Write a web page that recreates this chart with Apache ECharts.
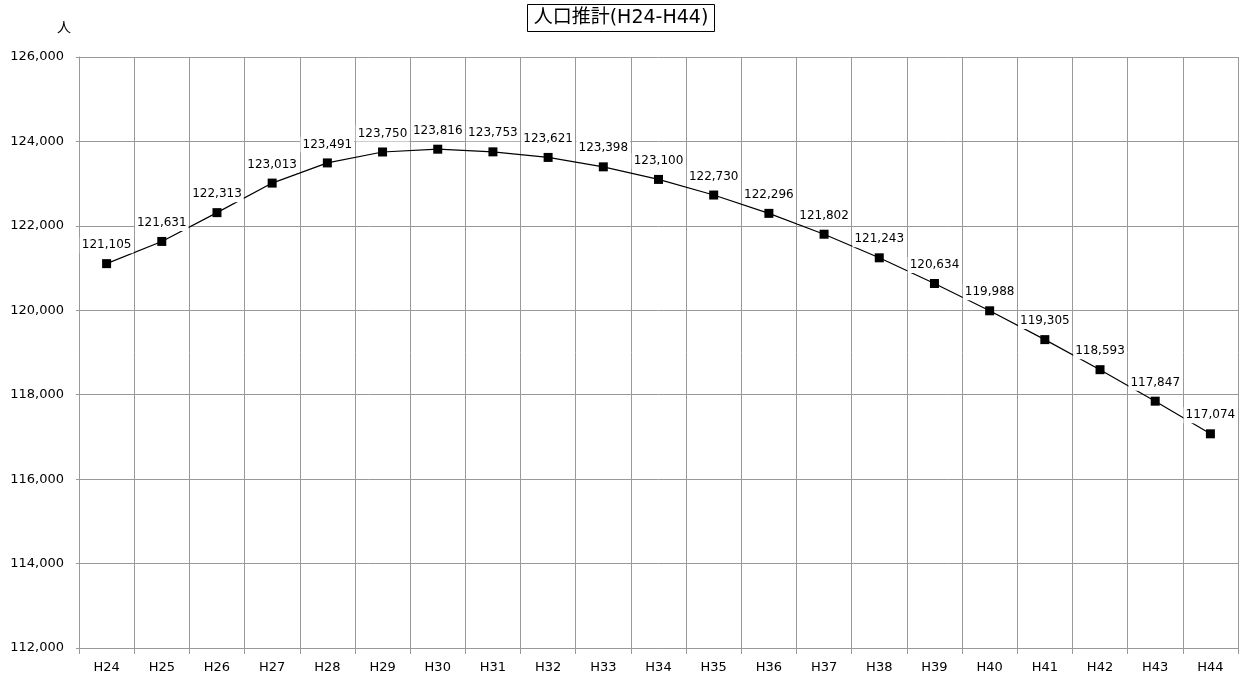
<!DOCTYPE html>
<html><head><meta charset="utf-8">
<script src="https://cdn.jsdelivr.net/npm/echarts@6/dist/echarts.min.js"></script>
<style>html,body{margin:0;padding:0;background:#fff}#c{width:1242px;height:682px}</style>
</head><body><div id="c"></div>
<script>
const categories = ['H24','H25','H26','H27','H28','H29','H30','H31','H32','H33','H34','H35','H36','H37','H38','H39','H40','H41','H42','H43','H44'];
const population = [121105,121631,122313,123013,123491,123750,123816,123753,123621,123398,123100,122730,122296,121802,121243,120634,119988,119305,118593,117847,117074];
const yTicks = {min:112000, max:126000, interval:2000};
const titleText = '人口推計(H24-H44)';
const unitText = '人';

const chart = echarts.init(document.getElementById('c'));
const font = '"DejaVu Sans", "Noto Sans CJK JP", sans-serif';
chart.setOption({
  animation:false,
  backgroundColor:'#fff',
  title:{text:titleText,left:'center',top:4,padding:[5,6,4,6],borderColor:'#000',borderWidth:1,
    textStyle:{fontSize:19,fontWeight:'normal',color:'#000',fontFamily:font}},
  graphic:[{type:'text',left:57,top:20,style:{text:unitText,fontSize:14,fill:'#000',fontFamily:'"Noto Sans CJK JP", sans-serif'}}],
  grid:{left:79,right:4,top:57,bottom:34,containLabel:false},
  xAxis:{type:'category',data:categories,boundaryGap:true,
    axisLine:{lineStyle:{color:'#999',width:1}},
    axisTick:{show:true,length:6,lineStyle:{color:'#999'}},
    axisLabel:{color:'#000',fontSize:13,margin:13,fontFamily:font},
    splitLine:{show:true,lineStyle:{color:'#999',width:1}}},
  yAxis:{type:'value',min:yTicks.min,max:yTicks.max,interval:yTicks.interval,
    axisLine:{show:true,lineStyle:{color:'#999'}},
    axisTick:{show:true,length:3,lineStyle:{color:'#999'}},
    axisLabel:{color:'#000',fontSize:13,margin:15,fontFamily:font,
      formatter:v=>v.toLocaleString('en-US')},
    splitLine:{show:true,lineStyle:{color:'#999',width:1}}},
  series:[{type:'line',data:population,symbol:'rect',symbolSize:9,
    lineStyle:{color:'#000',width:1.2},itemStyle:{color:'#000'},
    label:{show:true,position:'top',distance:6,color:'#000',fontSize:12,
      fontFamily:font,
      backgroundColor:'#fff',padding:[2,2,2,2],
      formatter:p=>p.value.toLocaleString('en-US')}}]
});
</script></body></html>
